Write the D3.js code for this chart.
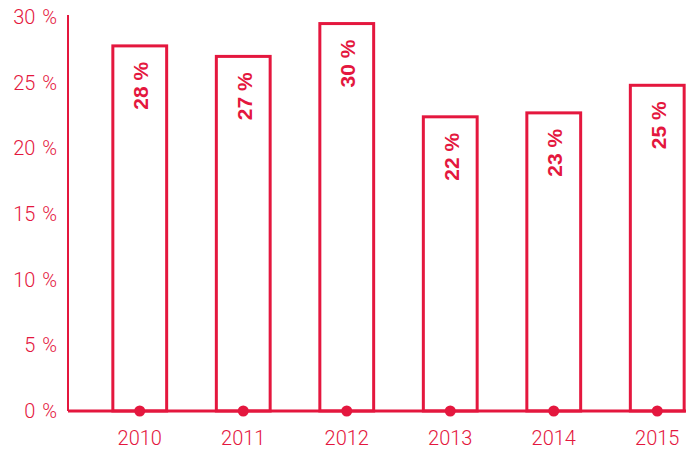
<!DOCTYPE html>
<html>
<head>
<meta charset="utf-8">
<script src="https://cdn.jsdelivr.net/npm/d3@7"></script>
<style>
  body { margin: 0; background: #fff; }
  svg { display: block; }
  text { font-family: Roboto, "Liberation Sans", Arial, sans-serif; }
  .vlab { font-family: "Liberation Sans", Arial, sans-serif; }
</style>
</head>
<body>
<div id="chart"></div>
<script>
var years = ["2010", "2011", "2012", "2013", "2014", "2015"];
var values = [27.8, 27.0, 29.5, 22.4, 22.7, 24.8];
var valueLabels = ["28 %", "27 %", "30 %", "22 %", "23 %", "25 %"];
var yTicks = [0, 5, 10, 15, 20, 25, 30];

var svgWidth = 686;
var svgHeight = 453;
var red = "#e4173e";

var svg = d3.select("#chart")
  .append("svg")
  .attr("width", svgWidth)
  .attr("height", svgHeight);

// scales
var x = d3.scaleBand()
  .domain(years)
  .range([88, 709])
  .paddingInner(0.48)
  .paddingOuter(0.24);

var y = d3.scaleLinear()
  .domain([0, 30])
  .range([411, 17]);

// y axis line + labels
svg.append("line")
  .attr("x1", 68).attr("x2", 68)
  .attr("y1", 15).attr("y2", 411)
  .attr("stroke", red)
  .attr("stroke-width", 2);

svg.selectAll(".ylab")
  .data(yTicks)
  .enter()
  .append("text")
  .attr("class", "ylab")
  .attr("x", 57)
  .attr("y", d => y(d))
  .attr("dy", "0.35em")
  .attr("text-anchor", "end")
  .attr("fill", red)
  .attr("font-size", 20)
  .attr("font-weight", 300)
  .attr("word-spacing", 2)
  .text(d => d + " %");

// bars
svg.selectAll(".bar")
  .data(values)
  .enter()
  .append("rect")
  .attr("class", "bar")
  .attr("x", (d, i) => x(years[i]))
  .attr("y", d => y(d))
  .attr("width", x.bandwidth())
  .attr("height", d => y(0) - y(d))
  .attr("fill", "#fff")
  .attr("stroke", red)
  .attr("stroke-width", 3);

// baseline
svg.append("line")
  .attr("x1", 68).attr("x2", svgWidth)
  .attr("y1", y(0)).attr("y2", y(0))
  .attr("stroke", red)
  .attr("stroke-width", 3);

// dots on baseline
svg.selectAll(".dot")
  .data(years)
  .enter()
  .append("circle")
  .attr("class", "dot")
  .attr("cx", d => x(d) + x.bandwidth() / 2)
  .attr("cy", y(0))
  .attr("r", 5.5)
  .attr("fill", red);

// value labels (rotated)
svg.selectAll(".vlab")
  .data(values)
  .enter()
  .append("text")
  .attr("class", "vlab")
  .attr("transform", (d, i) => `translate(${x(years[i]) + x.bandwidth() / 2 + 1}, ${y(d) + 16}) rotate(-90)`)
  .attr("dy", "0.35em")
  .attr("text-anchor", "end")
  .attr("fill", red)
  .attr("font-size", 21)
  .attr("font-weight", "bold")
  .text((d, i) => valueLabels[i]);

// year labels
svg.selectAll(".xlab")
  .data(years)
  .enter()
  .append("text")
  .attr("class", "xlab")
  .attr("x", d => x(d) + x.bandwidth() / 2)
  .attr("y", 438)
  .attr("dy", "0.35em")
  .attr("text-anchor", "middle")
  .attr("fill", red)
  .attr("font-size", 20)
  .attr("font-weight", 300)
  .text(d => d);
</script>
</body>
</html>
